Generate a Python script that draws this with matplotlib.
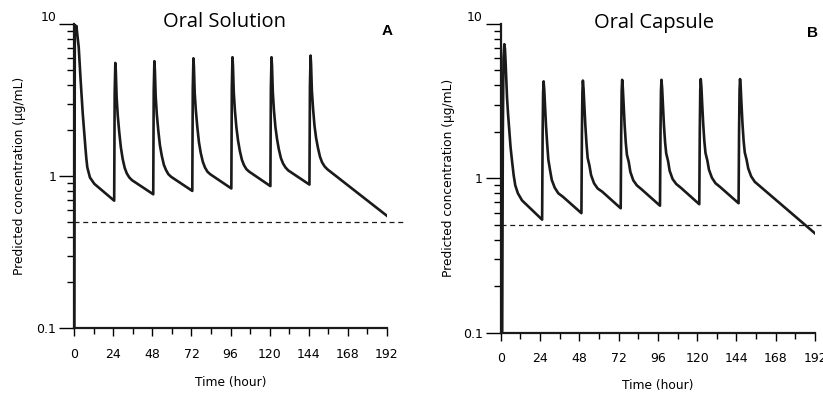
import matplotlib
matplotlib.use("Agg")
import matplotlib.pyplot as plt
from matplotlib.ticker import FixedLocator, FixedFormatter, LogLocator, NullFormatter, MultipleLocator

# simulated concentration-time profiles
sol_time = [0, 0.3, 0.8, 1.3, 1.8, 2.7, 3.9, 5.2, 6.8, 7.4, 8.0, 9.6, 12.3, 24.5,
            24.8, 25.2, 25.5, 26.0, 26.7, 27.6, 28.6, 29.7, 31.0, 32.3, 33.8, 35.5, 48.5,
            48.8, 49.2, 49.5, 50.0, 50.7, 51.6, 52.6, 53.7, 55.0, 56.3, 57.8, 59.5, 72.5,
            72.8, 73.2, 73.5, 74.0, 74.7, 75.6, 76.6, 77.7, 79.0, 80.3, 81.8, 83.5, 96.5,
            96.8, 97.2, 97.5, 98.0, 98.7, 99.6, 100.6, 101.7, 103.0, 104.3, 105.8, 107.5, 120.5,
            120.8, 121.2, 121.5, 122.0, 122.7, 123.6, 124.6, 125.7, 127.0, 128.3, 129.8, 131.5, 144.5,
            144.8, 145.2, 145.5, 146.0, 146.7, 147.6, 148.6, 149.7, 151.0, 152.3, 153.8, 155.5, 192]
sol_conc = [0.05, 9.9, 8.9, 9.7, 8.6, 7.06, 4.24, 2.56, 1.55, 1.3, 1.14, 0.98, 0.89, 0.69,
            3.5, 5.55, 4.9, 3.3, 2.5, 1.95, 1.55, 1.3, 1.13, 1.04, 0.98, 0.94, 0.76,
            3.6, 5.7, 5.0, 3.35, 2.55, 2.0, 1.6, 1.37, 1.19, 1.10, 1.03, 0.99, 0.80,
            3.75, 5.95, 5.25, 3.5, 2.7, 2.1, 1.67, 1.42, 1.24, 1.14, 1.07, 1.03, 0.83,
            3.8, 6.05, 5.3, 3.55, 2.7, 2.1, 1.72, 1.47, 1.28, 1.18, 1.11, 1.07, 0.86,
            3.8, 6.05, 5.3, 3.55, 2.7, 2.1, 1.75, 1.5, 1.31, 1.21, 1.14, 1.09, 0.88,
            3.9, 6.2, 5.45, 3.65, 2.8, 2.15, 1.78, 1.54, 1.34, 1.23, 1.16, 1.11, 0.55]

cap_time = [0, 0.9, 1.3, 1.7, 2.2, 2.6, 3.0, 3.85, 4.5, 5.25, 6.0, 6.9, 7.9, 8.9, 10.5, 13.0, 25.3,
            25.6, 25.9, 26.2, 26.6, 27.0, 27.7, 28.4, 29.1, 30.2, 31.2, 33.0, 35.2, 38.0, 49.3,
            49.6, 49.9, 50.2, 50.6, 51.0, 51.7, 52.4, 53.1, 54.2, 55.2, 57.0, 59.2, 62.0, 73.3,
            73.6, 73.9, 74.2, 74.6, 75.0, 75.7, 76.4, 77.1, 78.2, 79.2, 81.0, 83.2, 86.0, 97.3,
            97.6, 97.9, 98.2, 98.6, 99.0, 99.7, 100.4, 101.1, 102.2, 103.2, 105.0, 107.2, 110.0, 121.3,
            121.6, 121.9, 122.2, 122.6, 123.0, 123.7, 124.4, 125.1, 126.2, 127.2, 129.0, 131.2, 134.0, 145.3,
            145.6, 145.9, 146.2, 146.6, 147.0, 147.7, 148.4, 149.1, 150.2, 151.2, 153.0, 155.2, 192]
cap_conc = [0.05, 0.09, 2.0, 6.0, 7.4, 6.9, 5.6, 3.35, 2.6, 2.04, 1.6, 1.3, 1.05, 0.9, 0.8, 0.72, 0.54,
            1.9, 3.6, 4.25, 3.75, 3.05, 2.17, 1.66, 1.32, 1.12, 0.976, 0.87, 0.80, 0.76, 0.595,
            1.95, 3.65, 4.3, 3.8, 3.1, 2.2, 1.68, 1.36, 1.21, 1.05, 0.93, 0.86, 0.82, 0.64,
            1.95, 3.7, 4.35, 3.85, 3.15, 2.22, 1.7, 1.42, 1.28, 1.1, 0.97, 0.90, 0.85, 0.665,
            1.95, 3.7, 4.35, 3.85, 3.15, 2.22, 1.72, 1.45, 1.3, 1.12, 0.99, 0.92, 0.87, 0.68,
            2.0, 3.75, 4.4, 3.9, 3.15, 2.25, 1.74, 1.46, 1.31, 1.14, 1.01, 0.93, 0.88, 0.69,
            2.0, 3.75, 4.4, 3.9, 3.15, 2.25, 1.74, 1.47, 1.32, 1.16, 1.03, 0.95, 0.44]

mec = 0.5  # target concentration (dashed line)
time_ticks = [0, 24, 48, 72, 96, 120, 144, 168, 192]
conc_ticks = [0.1, 1, 10]
conc_labels = ["0.1", "1", "10"]

panels = [
    # (time, conc, axes rect, ylabel x, xlabel y)
    (sol_time, sol_conc, [0.0903, 0.1689, 0.3796, 0.7703], -0.155, -0.157),
    (cap_time, cap_conc, [0.6084, 0.1577, 0.3819, 0.7815], -0.146, -0.150),
]

fig = plt.figure(figsize=(8.23, 3.95), dpi=100)

for t, c, rect, ylab_x, xlab_y in panels:
    ax = fig.add_axes(rect)
    ax.plot(t, c, color="#1a1a1a", linewidth=1.9, solid_joinstyle="round")
    ax.axhline(mec, xmin=0, xmax=1.055, color="#1a1a1a", linewidth=0.9,
               linestyle=(0, (4, 3)), clip_on=False)

    ax.set_yscale("log")
    ax.set_ylim(0.1, 10)
    ax.set_xlim(0, 192)
    ax.yaxis.set_major_locator(FixedLocator(conc_ticks))
    ax.yaxis.set_major_formatter(FixedFormatter(conc_labels))
    ax.yaxis.set_minor_locator(LogLocator(base=10, subs=range(2, 10)))
    ax.yaxis.set_minor_formatter(NullFormatter())
    ax.xaxis.set_major_locator(FixedLocator(time_ticks))
    ax.xaxis.set_minor_locator(MultipleLocator(12))

    for side in ("top", "right"):
        ax.spines[side].set_visible(False)
    for side in ("left", "bottom"):
        ax.spines[side].set_linewidth(1.6)
        ax.spines[side].set_color("#1a1a1a")

    ax.tick_params(axis="y", which="major", length=11, width=1.0, pad=2, labelsize=9)
    ax.tick_params(axis="y", which="minor", length=5, width=1.0)
    ax.tick_params(axis="x", which="major", length=6, width=1.0, pad=8, labelsize=9)
    ax.tick_params(axis="x", which="minor", length=4, width=1.0)
    # the top label sits above its tick in the original
    ax.yaxis.get_major_ticks()[2].label1.set_verticalalignment("bottom")

    ax.set_xlabel("Time (hour)", fontsize=8.8)
    ax.xaxis.set_label_coords(0.5, xlab_y)
    ax.set_ylabel("Predicted concentration (\u00b5g/mL)", fontsize=8.8)
    ax.yaxis.set_label_coords(ylab_x, 0.5)

fig.text(0.273, 0.944, "Oral Solution", fontsize=14.5, family="Open Sans",
         ha="center", va="center")
fig.text(0.795, 0.943, "Oral Capsule", fontsize=14.5, family="Open Sans",
         ha="center", va="center")
fig.text(0.470, 0.921, "A", fontsize=11, fontweight="bold", family="Liberation Sans",
         ha="center", va="center")
fig.text(0.9806, 0.916, "B", fontsize=11, fontweight="bold", family="Liberation Sans",
         ha="left", va="center")

fig.savefig("out.png", dpi=100)
